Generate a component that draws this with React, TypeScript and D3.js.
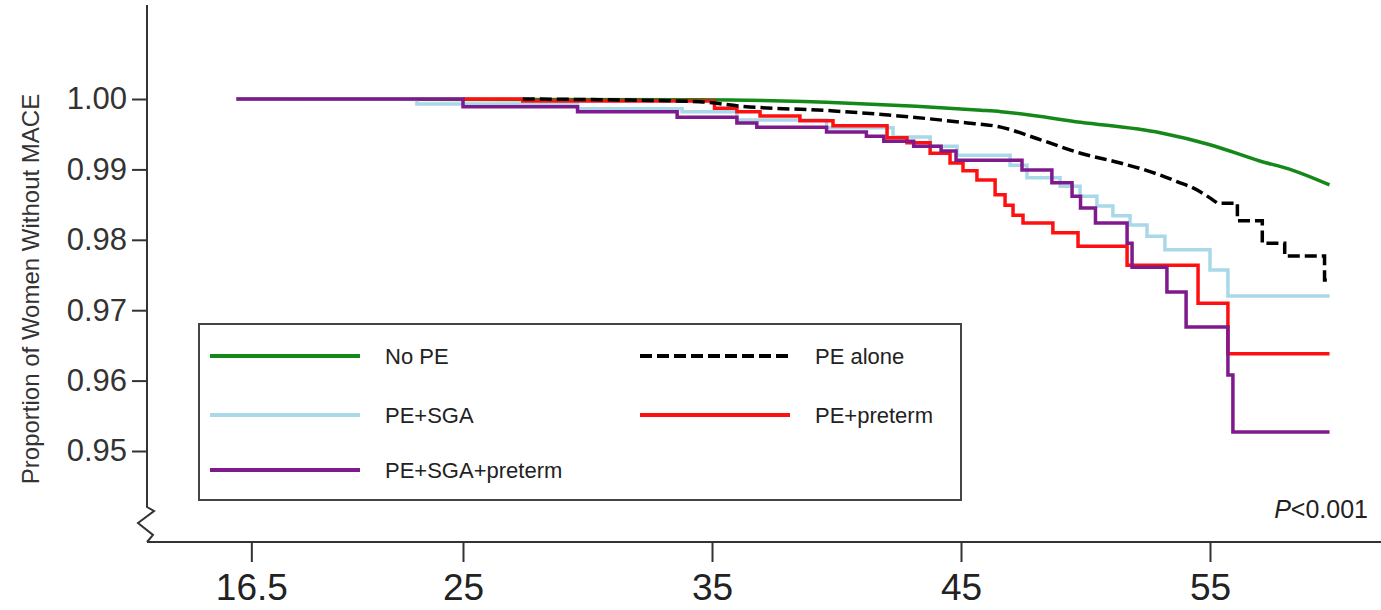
import React, { useEffect, useRef } from 'react';
import * as d3 from 'd3';

const W = 1381;
const H = 610;

// tick values
const xTicks = [16.5, 25, 35, 45, 55];
const yTicks = [0.95, 0.96, 0.97, 0.98, 0.99, 1.0];

// No PE (green) - near smooth
const noPeAge = [15.9, 34.5, 40.5, 45.8, 46.6, 49.8, 53.0, 55.0, 57.0, 58.3, 59.8];
const noPeSurv = [1.0, 0.9999, 0.9994, 0.9984, 0.9982, 0.9967, 0.9952, 0.9935, 0.9912, 0.9899, 0.9878];

// PE alone (black dashed)
const peAloneAge = [27.4, 30.5, 34.5, 36.1, 39.9, 42.5, 45.0, 46.6, 48.2, 49.8, 51.4, 52.5, 53.8, 54.3, 55.3, 56.1, 57.1, 58.0, 59.6, 59.8];
const peAloneSurv = [1.0, 0.9999, 0.9996, 0.999, 0.9983, 0.9976, 0.9967, 0.996, 0.9942, 0.9923, 0.9909, 0.9898, 0.9881, 0.9874, 0.9852, 0.9827, 0.9795, 0.9777, 0.9743, 0.9743];

// PE+SGA (light blue)
const peSgaAge = [15.9, 23.15, 29.6, 33.8, 36.0, 39.6, 42.27, 43.76, 44.84, 46.97, 47.65, 48.98, 49.78, 50.46, 51.1, 51.79, 52.47, 53.19, 55.0, 55.72, 59.8];
const peSgaSurv = [1.0, 0.9993, 0.9986, 0.9982, 0.997, 0.9959, 0.9946, 0.9933, 0.992, 0.9906, 0.9888, 0.9876, 0.9862, 0.9848, 0.9834, 0.9821, 0.9805, 0.9786, 0.9757, 0.972, 0.972];

// PE+preterm (red)
const pePretermAge = [25.0, 27.4, 35.1, 36.0, 36.93, 38.53, 39.86, 42.03, 42.83, 43.76, 44.56, 45.08, 45.64, 46.37, 46.77, 47.09, 47.49, 48.69, 49.7, 51.67, 54.52, 55.72, 59.8];
const pePretermSurv = [1.0, 0.9997, 0.9987, 0.9982, 0.9976, 0.9969, 0.9962, 0.9945, 0.9938, 0.9923, 0.9909, 0.9898, 0.9885, 0.9864, 0.9849, 0.9835, 0.9824, 0.981, 0.9791, 0.9764, 0.971, 0.9638, 0.9638];

// PE+SGA+preterm (purple)
const peSgaPretermAge = [15.9, 25.0, 29.6, 33.6, 36.0, 36.8, 39.6, 41.2, 41.9, 43.1, 44.2, 44.8, 47.45, 48.65, 49.46, 49.8, 50.4, 51.67, 51.87, 53.27, 54.04, 55.72, 55.92, 59.8];
const peSgaPretermSurv = [1.0, 0.9989, 0.9982, 0.9974, 0.9966, 0.996, 0.9953, 0.9947, 0.994, 0.9933, 0.9926, 0.9913, 0.9899, 0.9881, 0.9862, 0.9845, 0.9824, 0.9795, 0.9761, 0.9726, 0.9676, 0.9608, 0.9527, 0.9527];

// stepFrom: age where the curve switches from smooth to visible steps
const series = [
    { name: 'No PE', age: noPeAge, surv: noPeSurv, color: '#14891a', dash: null, stepFrom: 99 },
    { name: 'PE+SGA', age: peSgaAge, surv: peSgaSurv, color: '#a9d8e8', dash: null, stepFrom: 0 },
    { name: 'PE+preterm', age: pePretermAge, surv: pePretermSurv, color: '#ff1010', dash: null, stepFrom: 0 },
    { name: 'PE alone', age: peAloneAge, surv: peAloneSurv, color: '#000000', dash: '12,5', stepFrom: 55.3 },
    { name: 'PE+SGA+preterm', age: peSgaPretermAge, surv: peSgaPretermSurv, color: '#7f1a8c', dash: null, stepFrom: 0 },
];

// legend layout order
const legendOrder = ['No PE', 'PE alone', 'PE+SGA', 'PE+preterm', 'PE+SGA+preterm'];

export default function App() {
    const ref = useRef<SVGSVGElement>(null);

    useEffect(() => {
        const svg = d3.select(ref.current);
        svg.selectAll('*').remove();

        const x = d3.scaleLinear().domain([25, 55]).range([463, 1210]);
        const y = d3.scaleLinear().domain([0.95, 1.0]).range([451, 99]);
        const axisX = 147;
        const axisY = 542;
        const font = "'Liberation Sans', Arial, sans-serif";

        // y axis with break
        svg.append('path')
            .attr('d', `M${axisX},5 L${axisX},507 L154,511 L138,523 L153,535 L${axisX},${axisY}`)
            .attr('fill', 'none')
            .attr('stroke', '#333')
            .attr('stroke-width', 2);

        const yAxis = svg.append('g')
            .attr('transform', `translate(${axisX},0)`)
            .call(d3.axisLeft(y).tickValues(yTicks).tickFormat(d3.format('.2f')).tickSize(15).tickPadding(5));
        yAxis.select('.domain').remove();
        yAxis.selectAll('line').attr('stroke', '#333').attr('stroke-width', 2);
        yAxis.selectAll('text')
            .style('font-family', font)
            .style('font-size', '31px')
            .attr('fill', '#333');

        // x axis
        svg.append('line')
            .attr('x1', axisX).attr('x2', W)
            .attr('y1', axisY).attr('y2', axisY)
            .attr('stroke', '#333').attr('stroke-width', 2);

        const xAxis = svg.append('g')
            .attr('transform', `translate(0,${axisY})`)
            .call(d3.axisBottom(x).tickValues(xTicks).tickFormat(d => String(d)).tickSize(20).tickPadding(12));
        xAxis.select('.domain').remove();
        xAxis.selectAll('line').attr('stroke', '#333').attr('stroke-width', 2);
        xAxis.selectAll('text')
            .style('font-family', font)
            .style('font-size', '37px')
            .attr('fill', '#222');

        // y axis label
        svg.append('text')
            .attr('transform', 'translate(39,289) rotate(-90)')
            .attr('text-anchor', 'middle')
            .style('font-family', font)
            .style('font-size', '24px')
            .attr('fill', '#333')
            .text('Proportion of Women Without MACE');

        // curves
        const smooth = d3.line<[number, number]>().x(d => x(d[0])).y(d => y(d[1])).curve(d3.curveMonotoneX);
        const stepped = d3.line<[number, number]>().x(d => x(d[0])).y(d => y(d[1])).curve(d3.curveStepAfter);
        series.forEach(s => {
            const pts = s.age.map((a, i) => [a, s.surv[i]] as [number, number]);
            const head = pts.filter(d => d[0] <= s.stepFrom);
            const tail = pts.filter(d => d[0] >= s.stepFrom);
            let d = '';
            if (head.length > 1) d += smooth(head);
            if (tail.length > 1) d += (d ? stepped(tail)!.replace(/^M/, 'L') : stepped(tail));
            svg.append('path')
                .attr('d', d)
                .attr('fill', 'none')
                .attr('stroke', s.color)
                .attr('stroke-width', 3.5)
                .attr('stroke-dasharray', s.dash)
                .attr('stroke-linejoin', 'miter');
        });

        // legend
        svg.append('rect')
            .attr('x', 199).attr('y', 324)
            .attr('width', 762).attr('height', 176)
            .attr('fill', 'none')
            .attr('stroke', '#444')
            .attr('stroke-width', 2);

        const rowY = [356, 415, 470];
        const colX = [210, 640];
        legendOrder.forEach((name, i) => {
            const s = series.find(d => d.name === name)!;
            const lx = colX[i % 2];
            const ly = rowY[Math.floor(i / 2)];
            svg.append('line')
                .attr('x1', lx).attr('x2', lx + 150)
                .attr('y1', ly).attr('y2', ly)
                .attr('stroke', s.color)
                .attr('stroke-width', 4)
                .attr('stroke-dasharray', s.dash);
            svg.append('text')
                .attr('x', lx + 175).attr('y', ly + 8)
                .style('font-family', font)
                .style('font-size', '22px')
                .attr('fill', '#222')
                .text(name);
        });

        // p value
        const p = svg.append('text')
            .attr('x', 1368).attr('y', 518)
            .attr('text-anchor', 'end')
            .style('font-family', font)
            .style('font-size', '25px')
            .attr('fill', '#222');
        p.append('tspan').style('font-style', 'italic').text('P');
        p.append('tspan').text('<0.001');
    }, []);

    return (
        <svg ref={ref} width={W} height={H}
            style={{ position: 'absolute', left: 0, top: 0, background: '#fff' }} />
    );
}
